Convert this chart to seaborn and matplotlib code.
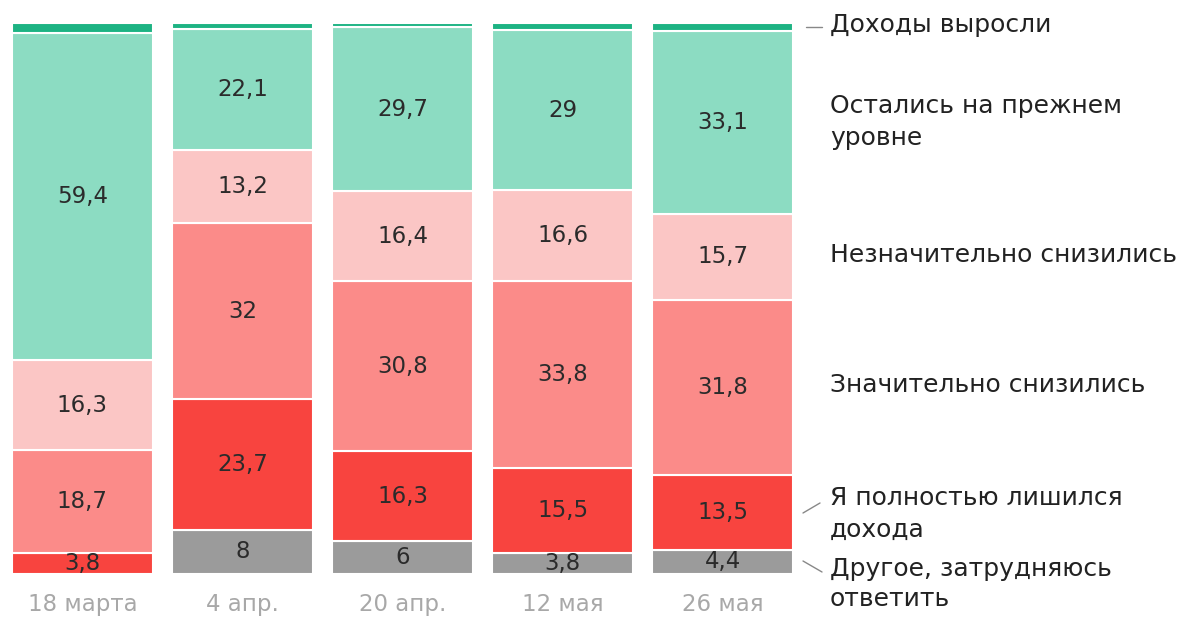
import numpy as np
import pandas as pd
import matplotlib
matplotlib.use("Agg")
import matplotlib.pyplot as plt
import seaborn as sns

# data, bottom -> top
dates = ["18 марта", "4 апр.", "20 апр.", "12 мая", "26 мая"]
other = [0, 8, 6, 3.8, 4.4]
lost_all = [3.8, 23.7, 16.3, 15.5, 13.5]
big_drop = [18.7, 32, 30.8, 33.8, 31.8]
small_drop = [16.3, 13.2, 16.4, 16.6, 15.7]
same = [59.4, 22.1, 29.7, 29, 33.1]
grew = [1.8, 1.0, 0.8, 1.3, 1.5]

layers = [
    ("Другое, затрудняюсь ответить", other, "#9b9b9b"),
    ("Я полностью лишился дохода", lost_all, "#f8443f"),
    ("Значительно снизились", big_drop, "#fb8b89"),
    ("Незначительно снизились", small_drop, "#fbc6c5"),
    ("Остались на прежнем уровне", same, "#8cdcc2"),
    ("Доходы выросли", grew, "#1db383"),
]

sns.set_style("white")
plt.rcParams["font.family"] = ["DejaVu Sans"]

fig = plt.figure(figsize=(11.91, 6.18), dpi=100)
ax = fig.add_axes([12 / 1191, 44 / 618, (793 - 12) / 1191, 551 / 618])

bottom = np.zeros(len(dates))
for name, vals, color in layers:
    vals = np.array(vals, dtype=float)
    df = pd.DataFrame({"date": dates, "value": vals})
    sns.barplot(data=df, x="date", y="value", color=color, bottom=bottom,
                width=0.88, edgecolor="white", linewidth=1.5, saturation=1, ax=ax)
    if name != "Доходы выросли":
        for i, v in enumerate(vals):
            if v > 0:
                ax.text(i, bottom[i] + v / 2, f"{v:g}".replace(".", ","),
                        ha="center", va="center", fontsize=16.5, color="#2b2b2b")
    bottom += vals

ax.set_xlim(-0.44, 4.44)
ax.set_ylim(0, 100)
ax.set_xlabel("")
ax.set_ylabel("")
ax.set_yticks([])
ax.tick_params(axis="x", length=0, pad=14, labelsize=16.5, labelcolor="#a8a8a8")
sns.despine(ax=ax, left=True, bottom=True)

# right-side labels (pixel y -> data y)
def py(y):
    return (574 - y) / 551 * 100

def px(x):
    return 4.44 + (x - 793) / 160

lx = px(830)
fs = 18
ax.text(lx, py(25), "Доходы выросли", fontsize=fs, color="#222222", va="center", clip_on=False)
ax.text(lx, py(122), "Остались на прежнем\nуровне", fontsize=fs, color="#222222",
        va="center", linespacing=1.45, clip_on=False)
ax.text(lx, py(255), "Незначительно снизились", fontsize=fs, color="#222222", va="center", clip_on=False)
ax.text(lx, py(385), "Значительно снизились", fontsize=fs, color="#222222", va="center", clip_on=False)
ax.text(lx, py(514), "Я полностью лишился\nдохода", fontsize=fs, color="#222222",
        va="center", linespacing=1.45, clip_on=False)
ax.text(lx, py(584), "Другое, затрудняюсь\nответить", fontsize=fs, color="#222222",
        va="center", linespacing=1.35, clip_on=False)

ax.plot([px(806), px(822)], [py(27), py(27)], color="#888888", lw=1, clip_on=False)
ax.plot([px(803), px(820)], [py(513), py(503)], color="#888888", lw=1, clip_on=False)
ax.plot([px(803), px(822)], [py(561), py(572)], color="#888888", lw=1, clip_on=False)

fig.savefig("out.png", dpi=100, facecolor="white")
